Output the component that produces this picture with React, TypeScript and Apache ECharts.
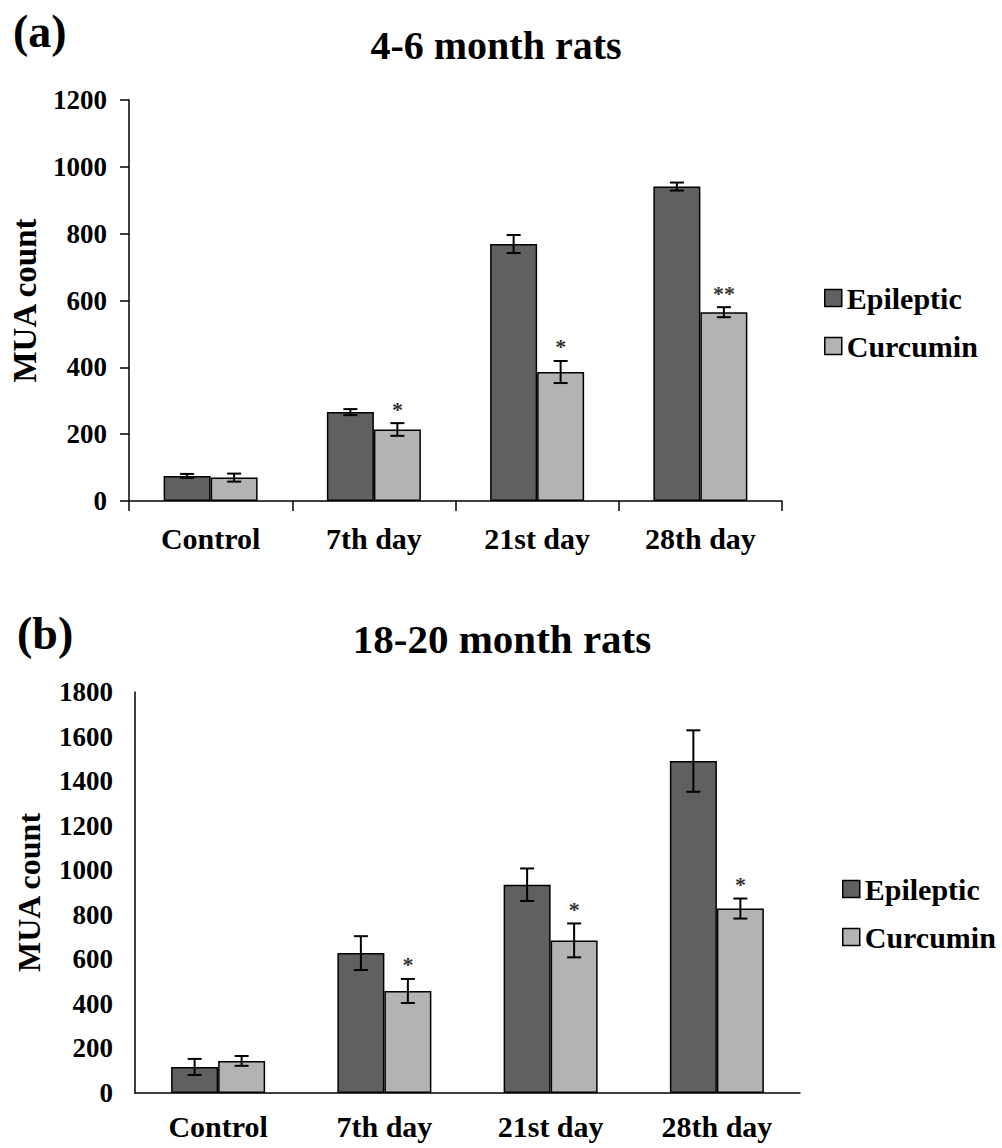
import React, { useEffect, useRef } from "react";
import * as echarts from "echarts";

const categories = ["Control", "7th day", "21st day", "28th day"];

const epilepticA = [75, 266, 769, 941];
const epilepticAErr = [6, 9, 27, 12];
const curcuminA = [70, 214, 386, 565];
const curcuminAErr = [12, 19, 33, 15];
const sigA = ["", "*", "*", "**"];

const epilepticB = [117, 628, 935, 1490];
const epilepticBErr = [36, 76, 73, 138];
const curcuminB = [144, 458, 685, 828];
const curcuminBErr = [22, 54, 76, 45];
const sigB = ["", "*", "*", "*"];

const FONT = "Liberation Serif, Times New Roman, DejaVu Serif, serif";
const DARK = "#606060";
const LIGHT = "#b3b3b3";
const BAR_W = 47;

function errSeries(
  name: string,
  vals: number[],
  errs: number[],
  sig: string[] | null,
  side: number,
  axisIndex: number
) {
  return {
    type: "custom",
    name,
    xAxisIndex: axisIndex,
    yAxisIndex: axisIndex,
    z: 10,
    silent: true,
    data: vals.map((v, i) => [i, v, errs[i], i]),
    encode: { x: 0, y: 1 },
    renderItem: (params: any, api: any) => {
      const i = api.value(0);
      const v = api.value(1);
      const e = api.value(2);
      const idx = api.value(3);
      const c = api.coord([i, v]);
      const x = c[0] + side * (BAR_W / 2);
      const top = api.coord([i, v + e])[1];
      const bot = api.coord([i, v - e])[1];
      const cap = 7;
      const ls = { stroke: "#000", lineWidth: 2 };
      const children: any[] = [
        { type: "line", shape: { x1: x, y1: top, x2: x, y2: bot }, style: ls },
        { type: "line", shape: { x1: x - cap, y1: top, x2: x + cap, y2: top }, style: ls },
        { type: "line", shape: { x1: x - cap, y1: bot, x2: x + cap, y2: bot }, style: ls },
      ];
      const s = sig ? sig[idx] : "";
      if (s) {
        children.push({
          type: "text",
          x: x,
          y: top - 14,
          style: {
            text: s,
            font: `bold 22px ${FONT}`,
            fill: "#333",
            textAlign: "center",
            textVerticalAlign: "middle",
            align: "center",
            verticalAlign: "middle",
          },
        });
      }
      return { type: "group", children };
    },
  };
}

function textEl(text: string, x: number, y: number, size: number, align: string) {
  return {
    type: "text",
    x,
    y,
    style: {
      text,
      font: `bold ${size}px ${FONT}`,
      fill: "#000",
      textAlign: align,
      textVerticalAlign: "middle",
      align: align,
      verticalAlign: "middle",
    },
  };
}

export default function App() {
  const ref = useRef<HTMLDivElement>(null);
  useEffect(() => {
    if (!ref.current) return;
    const chart = echarts.init(ref.current, null, { renderer: "svg" });
    const axisLine = { show: true, lineStyle: { color: "#000", width: 1.5 } };
    const tickLabel = {
      fontFamily: FONT,
      fontWeight: "bold",
      fontSize: 27,
      color: "#000",
      margin: 22,
      formatter: (v: number) => String(v),
    };
    const catLabel = { fontFamily: FONT, fontWeight: "bold", fontSize: 30, color: "#000", interval: 0 };
    const nameStyle = { fontFamily: FONT, fontWeight: "bold", fontSize: 33, color: "#000" };
    const barItem = (color: string) => ({ color, borderColor: "#000", borderWidth: 1.5 });
    const legendBase = {
      orient: "vertical",
      data: ["Epileptic", "Curcumin"],
      itemWidth: 17,
      itemHeight: 17,
      itemGap: 18,
      padding: 0,
      icon: "rect",
      selectedMode: false,
      textStyle: { fontFamily: FONT, fontWeight: "bold", fontSize: 30, color: "#000" },
      itemStyle: { borderColor: "#000", borderWidth: 1.5 },
    };
    chart.setOption({
      animation: false,
      backgroundColor: "#fff",
      textStyle: { fontFamily: FONT },
      grid: [
        { left: 127, top: 100, width: 655, height: 401 },
        { left: 135, top: 692, width: 665, height: 401 },
      ],
      xAxis: [
        {
          type: "category",
          gridIndex: 0,
          data: categories,
          axisLine,
          axisTick: { show: true, length: 10, interval: 0, lineStyle: { color: "#000", width: 1.5 } },
          axisLabel: { ...catLabel, margin: 22 },
        },
        {
          type: "category",
          gridIndex: 1,
          data: categories,
          axisLine,
          axisTick: { show: false },
          axisLabel: { ...catLabel, margin: 18 },
        },
      ],
      yAxis: [
        {
          type: "value",
          gridIndex: 0,
          min: 0,
          max: 1200,
          interval: 200,
          axisLine,
          axisTick: { show: true, length: 9, lineStyle: { color: "#000", width: 1.5 } },
          splitLine: { show: false },
          axisLabel: tickLabel,
          name: "MUA count",
          nameLocation: "middle",
          nameRotate: 90,
          nameGap: 88,
          nameTextStyle: nameStyle,
        },
        {
          type: "value",
          gridIndex: 1,
          min: 0,
          max: 1800,
          interval: 200,
          axisLine,
          axisTick: { show: false },
          splitLine: { show: false },
          axisLabel: tickLabel,
          name: "MUA count",
          nameLocation: "middle",
          nameRotate: 90,
          nameGap: 90,
          nameTextStyle: { ...nameStyle, fontSize: 32 },
        },
      ],
      legend: [
        { ...legendBase, left: 824, top: 283 },
        { ...legendBase, left: 842, top: 874 },
      ],
      series: [
        {
          type: "bar",
          name: "Epileptic",
          xAxisIndex: 0,
          yAxisIndex: 0,
          data: epilepticA,
          barWidth: BAR_W,
          barGap: "0%",
          itemStyle: barItem(DARK),
        },
        {
          type: "bar",
          name: "Curcumin",
          xAxisIndex: 0,
          yAxisIndex: 0,
          data: curcuminA,
          barWidth: BAR_W,
          barGap: "0%",
          itemStyle: barItem(LIGHT),
        },
        {
          type: "bar",
          name: "Epileptic",
          xAxisIndex: 1,
          yAxisIndex: 1,
          data: epilepticB,
          barWidth: BAR_W,
          barGap: "0%",
          itemStyle: barItem(DARK),
        },
        {
          type: "bar",
          name: "Curcumin",
          xAxisIndex: 1,
          yAxisIndex: 1,
          data: curcuminB,
          barWidth: BAR_W,
          barGap: "0%",
          itemStyle: barItem(LIGHT),
        },
        errSeries("errEpiA", epilepticA, epilepticAErr, null, -1, 0),
        errSeries("errCurA", curcuminA, curcuminAErr, sigA, 1, 0),
        errSeries("errEpiB", epilepticB, epilepticBErr, null, -1, 1),
        errSeries("errCurB", curcuminB, curcuminBErr, sigB, 1, 1),
      ],
      graphic: [
        textEl("(a)", 13, 31, 46, "left"),
        textEl("4-6 month rats", 496, 45, 40, "center"),
        textEl("(b)", 17, 633, 46, "left"),
        textEl("18-20 month rats", 502, 639, 41, "center"),
      ],
    });
    return () => chart.dispose();
  }, []);
  return (
    <div
      ref={ref}
      style={{ position: "absolute", left: 0, top: 0, width: 1002, height: 1148 }}
    />
  );
}
